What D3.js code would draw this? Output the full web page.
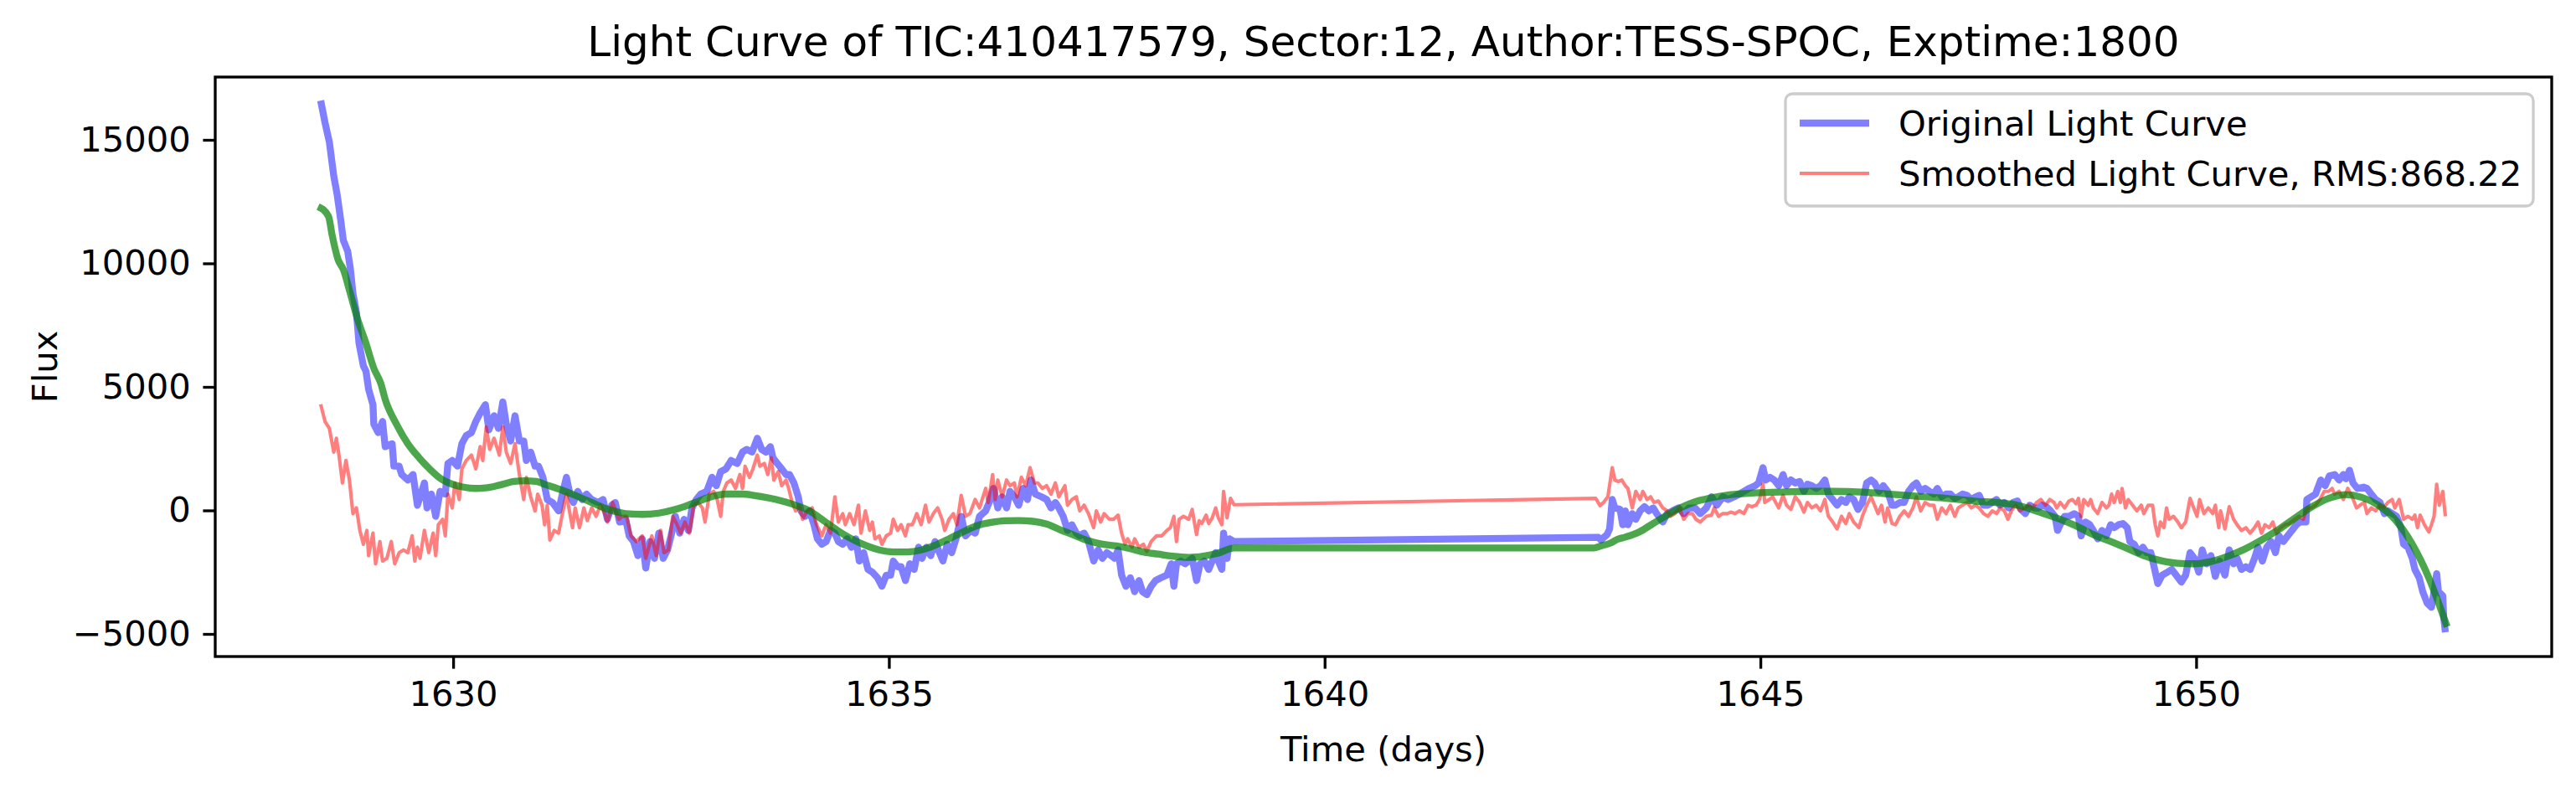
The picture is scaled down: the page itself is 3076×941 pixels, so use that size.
<!DOCTYPE html>
<html><head><meta charset="utf-8">
<script src="https://cdn.jsdelivr.net/npm/d3@7"></script>
<style>html,body{margin:0;padding:0;background:#fff;} svg{display:block;font-family:"DejaVu Sans",sans-serif;}</style>
</head><body><svg id="chart" width="3076" height="941"></svg>
<script>
// ---------------- DATA ----------------
const titleText = "Light Curve of TIC:410417579, Sector:12, Author:TESS-SPOC, Exptime:1800";
const xLabel = "Time (days)";
const yLabel = "Flux";
const legendLabels = ["Original Light Curve", "Smoothed Light Curve, RMS:868.22"];
const xTicks = [1630, 1635, 1640, 1645, 1650];
const yTicks = [-5000, 0, 5000, 10000, 15000];
const xDomain = [1627.27, 1654.08];
const yDomain = [-5915, 17542];

// Original light curve [time, flux]
const originalCurve = [
[1628.48,16590],[1628.53,15690],[1628.58,14900],[1628.63,13540],[1628.67,12760],[1628.71,11750],[1628.74,10930],[1628.79,10490],[1628.82,9810],[1628.85,8800],[1628.89,8020],[1628.92,6760],[1628.97,5850],[1629.00,5630],[1629.03,4900],
[1629.08,4280],[1629.09,3490],[1629.14,3150],[1629.19,3600],[1629.22,2580],[1629.30,2700],[1629.32,1790],[1629.38,1790],[1629.41,1450],[1629.48,1230],[1629.54,1450],[1629.59,210],[1629.67,1110],[1629.70,100],[1629.75,660],[1629.80,-240],[1629.85,770],[1629.91,660],[1629.94,1900],[1629.99,2020],[1630.05,1790],[1630.10,2700],[1630.15,3030],[1630.21,3150],[1630.26,3600],[1630.31,3940],[1630.37,4280],[1630.41,3260],[1630.47,3830],[1630.52,3320],[1630.57,4390],[1630.61,3490],[1630.66,2810],[1630.71,3830],[1630.76,2810],[1630.81,2810],[1630.84,2020],[1630.89,2360],[1630.94,1790],[1630.98,1790],[1631.03,1340],[1631.08,440],[1631.14,320],[1631.21,-20],[1631.26,770],[1631.30,1340],[1631.34,660],[1631.38,320],[1631.43,770],[1631.48,440],[1631.53,660],[1631.59,440],[1631.66,320],[1631.72,440],[1631.77,-360],[1631.82,210],[1631.86,320],[1631.91,-470],[1631.98,-360],[1632.02,-1030],[1632.07,-1260],[1632.12,-1830],[1632.17,-1150],[1632.21,-2330],[1632.26,-1260],[1632.31,-1940],[1632.36,-920],[1632.41,-1940],[1632.46,-1600],[1632.50,-1030],[1632.55,-240],[1632.60,-920],[1632.65,-360],[1632.70,-810],[1632.74,100],[1632.79,440],[1632.84,660],[1632.91,770],[1632.97,1340],[1633.02,1000],[1633.07,1570],[1633.13,1680],[1633.19,2020],[1633.26,1900],[1633.32,2360],[1633.37,2470],[1633.43,2360],
[1633.49,2920],[1633.54,2470],[1633.59,2360],[1633.64,2580],[1633.67,2130],[1633.72,1900],[1633.77,1680],[1633.82,1450],[1633.86,1450],[1633.91,1110],[1633.96,550],[1633.99,-20],[1634.04,-240],[1634.09,-20],[1634.14,-580],[1634.18,-1150],[1634.23,-1370],[1634.28,-1260],[1634.33,-810],[1634.38,-920],[1634.42,-1260],[1634.47,-1370],[1634.52,-1150],[1634.57,-1490],[1634.62,-1150],[1634.66,-2050],[1634.71,-1710],[1634.76,-2390],[1634.81,-2500],[1634.87,-2730],[1634.92,-3070],[1634.97,-2620],[1635.02,-2620],[1635.05,-2050],[1635.10,-2280],[1635.14,-2280],[1635.19,-2840],[1635.24,-2160],[1635.29,-2390],[1635.34,-1490],[1635.38,-1940],[1635.43,-1490],[1635.48,-1830],[1635.53,-1260],[1635.58,-1710],[1635.62,-2050],[1635.67,-1370],[1635.72,-1710],[1635.77,-1150],[1635.83,-240],[1635.88,-1030],[1635.94,-810],[1635.99,-920],[1636.04,-240],[1636.11,-20],[1636.15,320],[1636.20,890],[1636.25,100],[1636.30,550],[1636.35,100],[1636.39,770],[1636.44,550],[1636.49,210],[1636.54,890],[1636.59,440],[1636.63,1230],[1636.68,660],[1636.75,550],[1636.81,440],[1636.86,100],[1636.91,320],[1636.95,100],[1637.00,-240],[1637.05,-810],[1637.10,-580],[1637.15,-920],[1637.19,-1030],[1637.24,-920],[1637.29,-1260],[1637.35,-2050],[1637.40,-1600],[1637.45,-1940],[1637.50,-1710],[1637.55,-1830],[1637.59,-1940],[1637.63,-1600],[1637.67,-2620],[1637.72,-3070],[1637.77,-2730],[1637.82,-3290],[1637.87,-2840],[1637.91,-3290],[1637.96,-3410],[1638.01,-3070],[1638.06,-2840],[1638.12,-2730],[1638.19,-2620],[1638.24,-2160],[1638.27,-3070],[1638.30,-2160],[1638.35,-2050],[1638.40,-2160],[1638.44,-2050],
[1638.48,-1940],[1638.53,-2840],[1638.57,-2160],[1638.62,-2050],[1638.67,-2390],[1638.71,-2050],[1638.75,-1710],[1638.78,-2050],[1638.82,-2390],[1638.84,-920],[1638.88,-1940],[1638.91,-1150],[1638.96,-1260],
[1643.14,-1090],[1643.17,-1200],[1643.24,-980],[1643.27,-750],[1643.30,440],[1643.33,100],[1643.39,40],[1643.42,-580],
[1643.45,-20],[1643.48,-580],[1643.53,-130],[1643.57,-360],[1643.62,-20],[1643.67,150],[1643.72,-20],[1643.77,100],[1643.81,-130],[1643.88,-470],[1643.93,-130],[1643.99,-20],[1644.06,100],[1644.12,-130],[1644.18,100],[1644.25,100],[1644.31,-130],[1644.38,100],[1644.44,550],[1644.50,210],[1644.57,550],[1644.63,440],[1644.70,550],[1644.76,660],[1644.81,770],[1644.87,890],[1644.94,1000],[1644.98,1110],[1645.03,1730],[1645.06,1230],[1645.11,1340],[1645.16,1230],[1645.21,1000],[1645.26,1450],[1645.30,1000],[1645.35,1230],[1645.40,1110],[1645.45,1170],[1645.50,770],[1645.54,1060],[1645.59,1000],[1645.64,890],[1645.69,1000],[1645.74,1230],[1645.78,660],[1645.83,440],[1645.88,210],[1645.93,440],[1645.98,320],[1646.02,550],[1646.07,440],[1646.12,40],[1646.17,320],[1646.22,1110],[1646.27,1230],[1646.31,1110],[1646.36,770],[1646.41,1000],[1646.46,770],[1646.51,210],[1646.55,210],[1646.60,320],[1646.65,320],[1646.70,770],[1646.75,1000],[1646.79,1110],[1646.84,770],[1646.89,890],[1646.94,770],[1646.99,660],[1647.03,890],[1647.08,550],[1647.13,660],[1647.18,660],[1647.23,490],[1647.27,550],[1647.32,660],[1647.37,610],[1647.42,440],[1647.47,550],[1647.51,610],[1647.56,210],[1647.61,210],[1647.66,320],[1647.71,440],[1647.75,210],[1647.80,320],[1647.85,100],[1647.90,320],[1647.95,380],[1647.99,40],[1648.04,-130],[1648.09,210],[1648.14,100],[1648.19,100],[1648.23,210],[1648.28,150],[1648.33,-20],[1648.38,-240],[1648.41,-810],
[1648.44,-580],[1648.49,-240],[1648.54,-240],[1648.60,-130],[1648.65,-240],[1648.68,-1030],[1648.73,-470],[1648.78,-580],[1648.82,-810],[1648.87,-1150],[1648.92,-810],[1648.97,-1030],[1649.02,-580],[1649.06,-700],[1649.11,-580],[1649.16,-530],[1649.21,-700],[1649.24,-1260],[1649.29,-1370],[1649.34,-1710],[1649.39,-1490],[1649.43,-1710],[1649.48,-1710],[1649.51,-2160],[1649.56,-2960],[1649.61,-2620],[1649.67,-2500],[1649.72,-2390],[1649.77,-2620],[1649.83,-2900],[1649.88,-2620],[1649.93,-1710],[1649.98,-1940],[1650.03,-2500],[1650.07,-1600],[1650.12,-2160],[1650.17,-1830],[1650.22,-2670],[1650.27,-2050],[1650.33,-2620],[1650.38,-1600],[1650.43,-2160],[1650.47,-1940],[1650.52,-2390],[1650.57,-2280],[1650.62,-2390],[1650.67,-1940],[1650.71,-1490],[1650.76,-2050],[1650.81,-1490],[1650.86,-1260],[1650.91,-1710],[1650.95,-1030],[1651.00,-1260],[1651.05,-1030],[1651.10,-810],[1651.15,-580],[1651.19,-470],[1651.26,-470],[1651.27,440],[1651.32,550],[1651.37,660],[1651.43,1230],[1651.48,1000],[1651.53,1400],[1651.59,1450],[1651.64,1230],[1651.69,1450],[1651.72,1280],[1651.76,1620],[1651.80,1110],[1651.85,890],[1651.92,940],[1651.96,890],[1652.01,660],[1652.06,440],[1652.11,320],[1652.16,-130],[1652.20,-20],[1652.25,-130],[1652.30,-240],[1652.35,-700],[1652.38,-1370],[1652.43,-1490],[1652.48,-1940],[1652.51,-2390],[1652.56,-2730],[1652.60,-3290],[1652.65,-3750],[1652.70,-3920],[1652.73,-3290],[1652.76,-2560],[1652.78,-3290],[1652.83,-3460],[1652.84,-4310],[1652.86,-4930]
];

// Smoothed (detrended) light curve [time, flux]
const smoothedCurve = [
[1628.48,4300],[1628.53,3600],[1628.58,3320],[1628.63,2360],[1628.66,2920],[1628.69,2240],[1628.73,1110],[1628.77,2020],[1628.81,1230],[1628.85,-130],[1628.89,100],[1628.93,-810],[1628.97,-1370],[1629.01,-810],[1629.03,-1830],[1629.08,-920],[1629.11,-2160],[1629.16,-1260],[1629.19,-2050],[1629.24,-1940],[1629.29,-1260],[1629.33,-2160],[1629.38,-1710],[1629.43,-1600],[1629.48,-1710],[1629.53,-1030],[1629.56,-2050],[1629.59,-1490],[1629.62,-1940],[1629.67,-810],[1629.72,-1710],[1629.77,-920],[1629.80,-1830],[1629.83,-580],[1629.88,-360],[1629.91,-1030],[1629.94,660],[1629.99,100],[1630.02,1110],[1630.07,440],[1630.10,1680],[1630.15,2020],[1630.21,2240],[1630.26,1680],[1630.31,2580],[1630.34,2020],[1630.38,3370],[1630.42,2470],[1630.47,2920],[1630.53,2240],[1630.57,3370],[1630.61,2360],[1630.66,1900],[1630.71,2700],[1630.76,1450],[1630.81,440],[1630.84,1340],[1630.89,550],[1630.94,-20],[1630.97,660],[1631.02,210],[1631.05,-580],[1631.08,210],[1631.11,-1200],[1631.16,-810],[1631.21,-920],[1631.26,-20],[1631.30,660],[1631.34,-130],[1631.37,-700],[1631.40,100],[1631.45,-700],[1631.50,100],[1631.54,-410],[1631.59,100],[1631.64,-240],[1631.69,210],[1631.74,-130],[1631.77,-470],[1631.83,320],[1631.90,-360],[1631.94,-240],[1631.99,-240],[1632.04,-1030],[1632.10,-1260],[1632.17,-1030],[1632.21,-1940],[1632.28,-1030],[1632.33,-1830],[1632.38,-810],[1632.42,-1710],[1632.47,-1600],[1632.52,-240],[1632.57,-580],[1632.61,-920],[1632.66,-470],[1632.71,-920],[1632.76,210],[1632.81,320],[1632.86,100],[1632.89,-470],[1632.94,660],[1632.99,770],[1633.03,440],[1633.07,-240],[1633.10,770],[1633.14,1110],[1633.19,1230],[1633.24,890],[1633.29,1450],[1633.32,890],[1633.35,1790],[1633.40,1340],[1633.44,1680],
[1633.49,2240],[1633.52,1790],[1633.57,1900],[1633.61,1450],[1633.65,2130],[1633.68,1230],[1633.73,1570],[1633.77,1000],[1633.82,1230],[1633.85,890],[1633.89,320],[1633.93,-20],[1633.97,210],[1634.01,-360],[1634.06,-20],[1634.12,100],[1634.17,-580],[1634.23,-1030],[1634.28,-580],[1634.33,-920],[1634.38,550],[1634.42,-470],[1634.47,-130],[1634.50,-580],[1634.55,-130],[1634.60,-580],[1634.65,210],[1634.68,-920],[1634.73,-20],[1634.78,-810],[1634.81,-470],[1634.84,-1150],[1634.89,-1030],[1634.92,-1370],[1634.97,-1030],[1635.02,-920],[1635.05,-360],[1635.10,-810],[1635.14,-580],[1635.19,-1030],[1635.22,-580],[1635.27,-580],[1635.32,-130],[1635.37,-580],[1635.42,210],[1635.46,-470],[1635.51,-130],[1635.56,100],[1635.61,-360],[1635.64,-810],[1635.69,-360],[1635.74,-130],[1635.78,-580],[1635.83,610],[1635.88,-240],[1635.93,-130],[1635.99,440],[1636.04,100],[1636.11,890],[1636.14,320],[1636.19,1450],[1636.22,440],[1636.25,1230],[1636.30,550],[1636.35,1230],[1636.39,1000],[1636.44,1110],[1636.47,550],[1636.52,1340],[1636.57,1000],[1636.62,1730],[1636.67,1110],[1636.71,1110],[1636.76,890],[1636.81,1000],[1636.86,660],[1636.91,1110],[1636.95,550],[1637.02,1000],[1637.05,210],[1637.10,440],[1637.15,550],[1637.19,-20],[1637.24,210],[1637.29,-130],[1637.35,-700],[1637.38,-20],[1637.43,-470],[1637.47,-130],[1637.53,-360],[1637.58,-360],[1637.63,-190],[1637.67,-920],[1637.71,-1370],[1637.74,-1150],[1637.79,-1490],[1637.82,-1150],[1637.87,-1490],[1637.92,-1370],[1637.96,-1660],[1638.01,-1260],[1638.07,-1030],[1638.13,-1030],[1638.19,-810],[1638.23,-700],[1638.27,-240],[1638.30,-1260],[1638.33,-360],[1638.38,-240],[1638.44,-360],
[1638.48,40],[1638.53,-980],[1638.56,-420],[1638.59,-530],[1638.64,-190],[1638.67,-530],[1638.71,-300],[1638.75,100],[1638.78,-300],[1638.82,-580],[1638.84,770],[1638.88,-300],[1638.92,490],[1638.96,230],
[1643.11,490],[1643.16,190],[1643.20,320],[1643.25,550],[1643.30,1730],[1643.33,1230],[1643.37,1170],[1643.41,1230],
[1643.45,1000],[1643.48,890],[1643.53,100],[1643.57,770],[1643.62,440],[1643.65,770],[1643.70,440],[1643.74,550],[1643.78,320],[1643.83,380],[1643.88,100],[1643.93,-20],[1643.97,-240],[1644.02,-130],[1644.07,100],[1644.12,-360],[1644.17,-130],[1644.22,-130],[1644.26,-360],[1644.31,-470],[1644.38,-240],[1644.44,-190],[1644.47,100],[1644.52,-240],[1644.57,-130],[1644.62,-130],[1644.66,-70],[1644.71,-130],[1644.76,-20],[1644.81,-130],[1644.86,210],[1644.90,150],[1644.95,210],[1644.99,440],[1645.03,1060],[1645.05,320],[1645.10,440],[1645.14,550],[1645.21,100],[1645.26,610],[1645.30,210],[1645.35,40],[1645.40,550],[1645.45,320],[1645.50,-70],[1645.54,320],[1645.59,100],[1645.64,210],[1645.69,-20],[1645.74,440],[1645.78,-240],[1645.83,-470],[1645.88,-750],[1645.93,-240],[1645.98,-530],[1646.02,-130],[1646.07,-470],[1646.13,-700],[1646.17,-240],[1646.22,210],[1646.27,550],[1646.31,210],[1646.35,-130],[1646.39,210],[1646.43,-470],[1646.46,100],[1646.51,-530],[1646.55,-580],[1646.60,-240],[1646.65,-20],[1646.70,-240],[1646.75,100],[1646.79,550],[1646.84,-20],[1646.89,320],[1646.94,210],[1646.99,210],[1647.03,-360],[1647.08,100],[1647.13,-130],[1647.18,210],[1647.23,-240],[1647.27,100],[1647.32,210],[1647.37,320],[1647.42,100],[1647.47,210],[1647.51,100],[1647.56,-130],[1647.61,-240],[1647.66,-20],[1647.71,-130],[1647.75,100],[1647.80,-20],[1647.84,-360],[1647.88,-20],[1647.93,210],[1647.98,-20],[1648.03,100],[1648.08,210],[1648.12,100],[1648.17,320],[1648.22,440],[1648.27,210],[1648.32,440],[1648.37,320],[1648.40,100],
[1648.44,320],[1648.49,100],[1648.54,380],[1648.58,440],[1648.62,270],[1648.65,490],[1648.68,-240],[1648.71,440],[1648.76,210],[1648.79,440],[1648.82,100],[1648.87,-130],[1648.92,320],[1648.97,100],[1649.00,210],[1649.03,660],[1649.06,320],[1649.10,770],[1649.13,320],[1649.15,890],[1649.19,100],[1649.22,440],[1649.27,210],[1649.32,-20],[1649.37,210],[1649.40,-130],[1649.45,210],[1649.50,210],[1649.53,-580],[1649.56,-1030],[1649.59,-470],[1649.63,-700],[1649.66,100],[1649.69,-360],[1649.74,-240],[1649.79,-470],[1649.83,-700],[1649.88,-470],[1649.93,490],[1649.96,210],[1650.01,-240],[1650.04,440],[1650.09,-130],[1650.14,100],[1650.19,-130],[1650.22,210],[1650.26,-700],[1650.28,-20],[1650.33,-750],[1650.38,150],[1650.43,-360],[1650.47,-580],[1650.52,-810],[1650.57,-700],[1650.62,-920],[1650.67,-700],[1650.71,-470],[1650.75,-920],[1650.79,-580],[1650.84,-700],[1650.88,-470],[1650.92,-920],[1650.97,-700],[1651.02,-580],[1651.07,-530],[1651.13,-360],[1651.18,-240],[1651.23,-360],[1651.27,100],[1651.32,100],[1651.37,210],[1651.42,440],[1651.47,770],[1651.52,770],[1651.56,890],[1651.59,660],[1651.64,770],[1651.69,440],[1651.74,890],[1651.79,550],[1651.84,100],[1651.88,210],[1651.93,320],[1651.96,-130],[1652.01,100],[1652.06,-20],[1652.11,210],[1652.15,100],[1652.20,320],[1652.25,440],[1652.28,100],[1652.33,440],[1652.38,-360],[1652.43,-240],[1652.48,-360],[1652.51,-190],[1652.54,-700],[1652.57,-190],[1652.62,-580],[1652.67,-870],[1652.70,-580],[1652.73,-240],[1652.76,1060],[1652.79,210],[1652.83,770],[1652.86,-240]
];

// Fitted trend [time, flux]
const trendCurve = [
[1628.45,12300],[1628.57,11900],[1628.61,11170],[1628.68,10150],[1628.74,9750],[1628.81,8910],[1628.90,7780],[1629.00,6760],[1629.09,5750],[1629.17,5140],[1629.22,4500],[1629.35,3490],[1629.48,2700],[1629.61,2130],[1629.73,1680],[1629.86,1280],[1629.99,1060],[1630.12,940],[1630.25,890],[1630.37,910],[1630.53,1020],[1630.70,1170],[1630.82,1200],[1630.95,1170],[1631.08,1020],[1631.24,830],[1631.40,610],[1631.59,320],[1631.78,40],[1631.98,-130],[1632.17,-160],[1632.36,-110],[1632.55,40],[1632.74,270],[1632.94,530],[1633.13,660],[1633.32,660],[1633.45,610],[1633.64,490],[1633.77,380],[1633.93,210],[1634.09,-20],[1634.25,-410],[1634.41,-810],[1634.57,-1150],[1634.73,-1410],[1634.89,-1600],[1635.05,-1680],[1635.21,-1680],[1635.37,-1600],[1635.53,-1410],[1635.69,-1150],[1635.85,-870],[1636.01,-620],[1636.17,-490],[1636.33,-420],[1636.49,-410],[1636.65,-440],[1636.81,-550],[1636.97,-790],[1637.13,-1010],[1637.29,-1230],[1637.45,-1370],[1637.61,-1440],[1637.77,-1550],[1637.93,-1690],[1638.09,-1770],[1638.25,-1850],[1638.44,-1900],[1638.61,-1850],[1638.77,-1740],[1638.96,-1520],
[1643.09,-1520],[1643.17,-1440],[1643.28,-1320],[1643.36,-1170],[1643.45,-1080],[1643.61,-870],[1643.77,-530],[1643.93,-190],[1644.09,120],[1644.25,350],[1644.41,490],[1644.66,640],[1644.89,700],[1645.21,740],[1645.53,770],[1645.85,770],[1646.17,740],[1646.49,660],[1646.81,570],[1647.13,490],[1647.45,380],[1647.77,300],[1647.93,230],[1648.09,70],[1648.25,-130],[1648.44,-360],[1648.63,-640],[1648.82,-980],[1649.02,-1260],[1649.21,-1540],[1649.40,-1830],[1649.59,-2030],[1649.79,-2140],[1649.98,-2160],[1650.17,-2070],[1650.36,-1860],[1650.55,-1580],[1650.75,-1200],[1650.94,-790],[1651.13,-320],[1651.32,130],[1651.52,490],[1651.71,640],[1651.90,530],[1652.09,210],[1652.28,-360],[1652.48,-1370],[1652.67,-2730],[1652.88,-4710]
];

// ---------------- DRAWING ----------------
const W = 3076, H = 941;
const L = 257, R = 3047, T = 92, B = 784;
const FS = 41.7;           // 10pt @300dpi
const LW = 300 / 72;       // 1pt in px

const svg = d3.select("#chart");
svg.append("rect").attr("width", W).attr("height", H).attr("fill", "#fff");

const x = d3.scaleLinear().domain(xDomain).range([L, R]);
const y = d3.scaleLinear().domain(yDomain).range([B, T]);

svg.append("clipPath").attr("id", "plotclip")
  .append("rect").attr("x", L).attr("y", T).attr("width", R - L).attr("height", B - T);

const plot = svg.append("g").attr("clip-path", "url(#plotclip)");
const lineGen = d3.line().x(d => x(d[0])).y(d => y(d[1]));
const smoothGen = d3.line().x(d => x(d[0])).y(d => y(d[1])).curve(d3.curveMonotoneX);

plot.append("path").datum(originalCurve).attr("d", lineGen)
  .attr("fill", "none").attr("stroke", "#0000ff").attr("stroke-opacity", 0.5)
  .attr("stroke-width", 2 * LW).attr("stroke-linejoin", "round");
plot.append("path").datum(smoothedCurve).attr("d", lineGen)
  .attr("fill", "none").attr("stroke", "#ff0000").attr("stroke-opacity", 0.5)
  .attr("stroke-width", 1 * LW).attr("stroke-linejoin", "round");
plot.append("path").datum(trendCurve).attr("d", smoothGen)
  .attr("fill", "none").attr("stroke", "#008000").attr("stroke-opacity", 0.7)
  .attr("stroke-width", 2 * LW).attr("stroke-linejoin", "round");

// Axes
const fmt = d3.format("d");
const xAxis = svg.append("g").attr("transform", `translate(0,${B})`)
  .call(d3.axisBottom(x).tickValues(xTicks).tickFormat(fmt).tickSize(3.5 * LW).tickPadding(3.5 * LW));
const yAxis = svg.append("g").attr("transform", `translate(${L},0)`)
  .call(d3.axisLeft(y).tickValues(yTicks).tickFormat(fmt).tickSize(3.5 * LW).tickPadding(3.5 * LW));
[xAxis, yAxis].forEach(g => {
  g.select(".domain").remove();
  g.selectAll(".tick line").attr("stroke", "#000").attr("stroke-width", 0.8 * LW);
  g.selectAll(".tick text").attr("fill", "#000").attr("font-size", FS)
    .attr("font-family", "DejaVu Sans, sans-serif");
});

// Frame
svg.append("rect").attr("x", L).attr("y", T).attr("width", R - L).attr("height", B - T)
  .attr("fill", "none").attr("stroke", "#000").attr("stroke-width", 0.8 * LW)
  .attr("stroke-linecap", "square");

// Title & labels
svg.append("text").attr("x", (L + R) / 2).attr("y", 67).attr("text-anchor", "middle")
  .attr("font-size", 50).attr("fill", "#000").text(titleText);
svg.append("text").attr("x", (L + R) / 2).attr("y", 909).attr("text-anchor", "middle")
  .attr("font-size", FS).attr("fill", "#000").text(xLabel);
svg.append("text").attr("transform", `translate(68,${(T + B) / 2}) rotate(-90)`)
  .attr("text-anchor", "middle").attr("font-size", FS).attr("fill", "#000").text(yLabel);

// Legend
const lg = svg.append("g");
lg.append("rect").attr("x", 2132).attr("y", 112).attr("width", 893).attr("height", 134)
  .attr("rx", 8.3).attr("ry", 8.3)
  .attr("fill", "#fff").attr("fill-opacity", 0.8)
  .attr("stroke", "#cccccc").attr("stroke-width", 1 * LW * 0.8);
const legendStyles = [
  { color: "#0000ff", opacity: 0.5, width: 2 * LW },
  { color: "#ff0000", opacity: 0.5, width: 1 * LW }
];
const rowY = [147, 207];
legendLabels.forEach((lab, i) => {
  lg.append("line").attr("x1", 2149).attr("x2", 2232).attr("y1", rowY[i]).attr("y2", rowY[i])
    .attr("stroke", legendStyles[i].color).attr("stroke-opacity", legendStyles[i].opacity)
    .attr("stroke-width", legendStyles[i].width);
  lg.append("text").attr("x", 2267).attr("y", rowY[i] + 15).attr("font-size", FS)
    .attr("fill", "#000").text(lab);
});
</script>
</body></html>
